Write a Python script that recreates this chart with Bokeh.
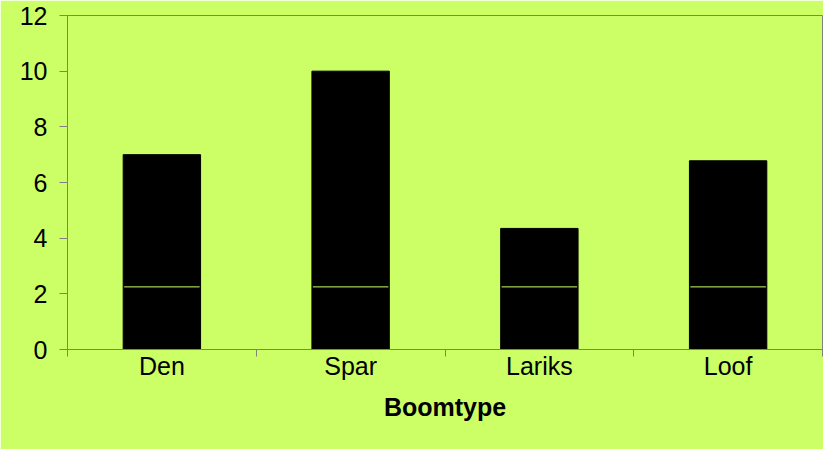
from bokeh.plotting import figure
from bokeh.models import Range1d, FixedTicker, LinearAxis
from bokeh.embed import file_html
from bokeh.resources import INLINE

categories = ["Den", "Spar", "Lariks", "Loof"]
base = [2.25, 2.25, 2.25, 2.25]
totals = [7.0, 10.0, 4.35, 6.78]
y_ticks = [0, 2, 4, 6, 8, 10, 12]
x_title = "Boomtype"

BG = "#CCFF66"
GRAY = "#808080"
FONT = "Liberation Sans"
FS = "25px"
BAR_W = 0.41

centers = [i + 0.5 for i in range(len(categories))]
bounds = [float(i) for i in range(len(categories) + 1)]

p = figure(width=823, height=449, output_backend="svg", toolbar_location=None,
           x_range=Range1d(0, len(categories)), y_range=Range1d(0, 12),
           x_axis_type=None, y_axis_type=None,
           min_border_left=67, min_border_right=1, min_border_top=15, min_border_bottom=100,
           background_fill_color=BG, border_fill_color=BG,
           outline_line_color=GRAY, outline_line_width=1)

yaxis = LinearAxis(ticker=FixedTicker(ticks=y_ticks))
yaxis.axis_line_color = GRAY
yaxis.major_tick_line_color = GRAY
yaxis.major_tick_out = 8
yaxis.major_tick_in = 0
yaxis.minor_tick_line_color = None
yaxis.major_label_text_font = FONT
yaxis.major_label_text_font_size = FS
yaxis.major_label_text_color = "black"
yaxis.major_label_standoff = 12
p.add_layout(yaxis, "left")

xaxis = LinearAxis(ticker=FixedTicker(ticks=centers, minor_ticks=bounds))
xaxis.major_label_overrides = {c: name for c, name in zip(centers, categories)}
xaxis.axis_line_color = GRAY
xaxis.major_tick_line_color = None
xaxis.major_tick_out = 0
xaxis.major_tick_in = 0
xaxis.minor_tick_line_color = GRAY
xaxis.minor_tick_out = 7
xaxis.minor_tick_in = 0
xaxis.major_label_text_font = FONT
xaxis.major_label_text_font_size = FS
xaxis.major_label_text_color = "black"
xaxis.major_label_standoff = -5
xaxis.axis_label = x_title
xaxis.axis_label_text_font = FONT
xaxis.axis_label_text_font_size = FS
xaxis.axis_label_text_font_style = "bold"
xaxis.axis_label_text_color = "black"
xaxis.axis_label_standoff = 10
p.add_layout(xaxis, "below")

p.vbar(x=centers, bottom=0, top=totals, width=BAR_W, fill_color="black", line_color="black")
inset = 0.005
p.segment(x0=[c - BAR_W / 2 + inset for c in centers], y0=base,
          x1=[c + BAR_W / 2 - inset for c in centers], y1=base,
          line_color=BG, line_width=1)

open("out.html", "w").write(file_html(p, INLINE))
